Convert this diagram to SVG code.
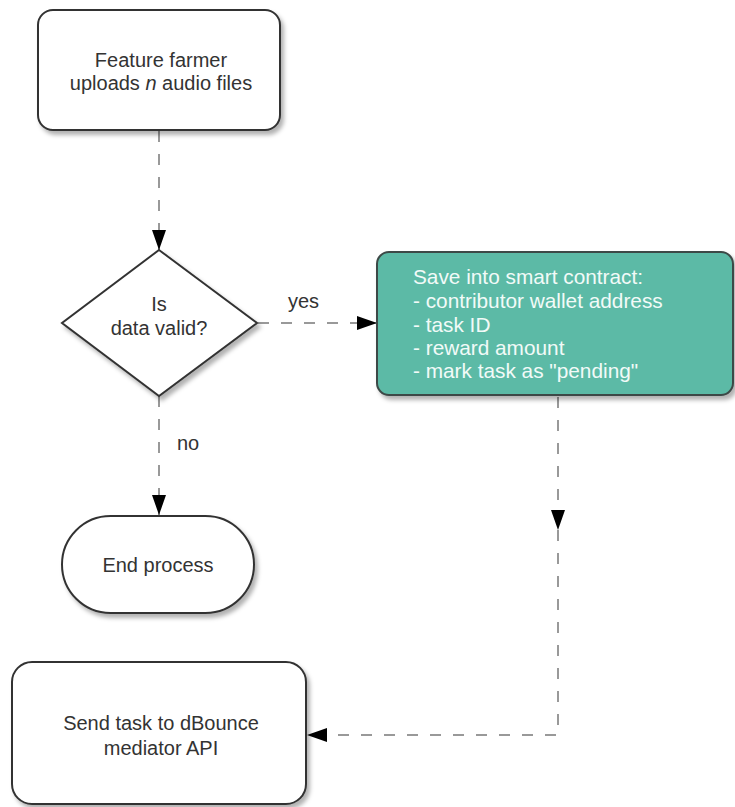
<svg xmlns="http://www.w3.org/2000/svg" width="735" height="807" viewBox="0 0 735 807">
  <defs>
    <filter id="shadow" x="-10%" y="-10%" width="130%" height="130%">
      <feDropShadow dx="3" dy="4" stdDeviation="2" flood-color="#000" flood-opacity="0.3"/>
    </filter>
    <marker id="arrow" viewBox="0 0 20 14" refX="20" refY="7" markerWidth="20" markerHeight="14" markerUnits="userSpaceOnUse" orient="auto">
      <path d="M0,0 L20,7 L0,14 Z" fill="#000"/>
    </marker>
  </defs>
  <style>
    .node { fill: #ffffff; stroke: #333333; stroke-width: 2; }
    .green { fill: #5cbaa6; stroke: #3d4a47; stroke-width: 2; }
    .label { font-family: "Liberation Sans", Arial, sans-serif; font-size: 20px; fill: #333333; }
    .wlabel { font-family: "Liberation Sans", Arial, sans-serif; font-size: 20.8px; fill: #f2faf8; }
    .conn { fill: none; stroke: #999999; stroke-width: 2; stroke-dasharray: 11 12; }
  </style>
  <rect width="735" height="807" fill="#ffffff"/>

  <g id="connectors">
    <path class="conn" d="M159,131 L159,250" marker-end="url(#arrow)"/>
    <path class="conn" d="M258,323 L377,323" marker-end="url(#arrow)"/>
    <path class="conn" d="M159,396 L159,515" marker-end="url(#arrow)"/>
    <path class="conn" d="M558,397 L558,530" marker-end="url(#arrow)"/>
    <path class="conn" d="M558,530 L558,735 L307,735" marker-end="url(#arrow)"/>
    <text class="label" x="288" y="308">yes</text>
    <text class="label" x="177" y="450">no</text>
  </g>

  <g id="upload">
    <rect class="node" x="38" y="10" width="242" height="120" rx="15" filter="url(#shadow)"/>
    <text class="label" text-anchor="middle" x="161" y="67">Feature farmer</text>
    <text class="label" text-anchor="middle" x="161" y="90">uploads <tspan font-style="italic">n</tspan> audio files</text>
  </g>

  <g id="valid">
    <path class="node" d="M159,250 L257,323 L159,396 L62,323 Z" filter="url(#shadow)"/>
    <text class="label" text-anchor="middle" x="159" y="311">Is</text>
    <text class="label" text-anchor="middle" x="159" y="335">data valid?</text>
  </g>

  <g id="save">
    <rect class="green" x="377" y="252" width="356" height="143" rx="12" filter="url(#shadow)"/>
    <text class="wlabel" x="413" y="284">Save into smart contract:</text>
    <text class="wlabel" x="413" y="308">- contributor wallet address</text>
    <text class="wlabel" x="413" y="332">- task ID</text>
    <text class="wlabel" x="413" y="355">- reward amount</text>
    <text class="wlabel" x="413" y="378">- mark task as "pending"</text>
  </g>

  <g id="end">
    <rect class="node" x="62" y="516" width="192" height="97" rx="48.5" filter="url(#shadow)"/>
    <text class="label" text-anchor="middle" x="158" y="572">End process</text>
  </g>

  <g id="send">
    <rect class="node" x="12" y="662" width="294" height="142" rx="20" filter="url(#shadow)"/>
    <text class="label" text-anchor="middle" x="161" y="730">Send task to dBounce</text>
    <text class="label" text-anchor="middle" x="161" y="755">mediator API</text>
  </g>
</svg>
